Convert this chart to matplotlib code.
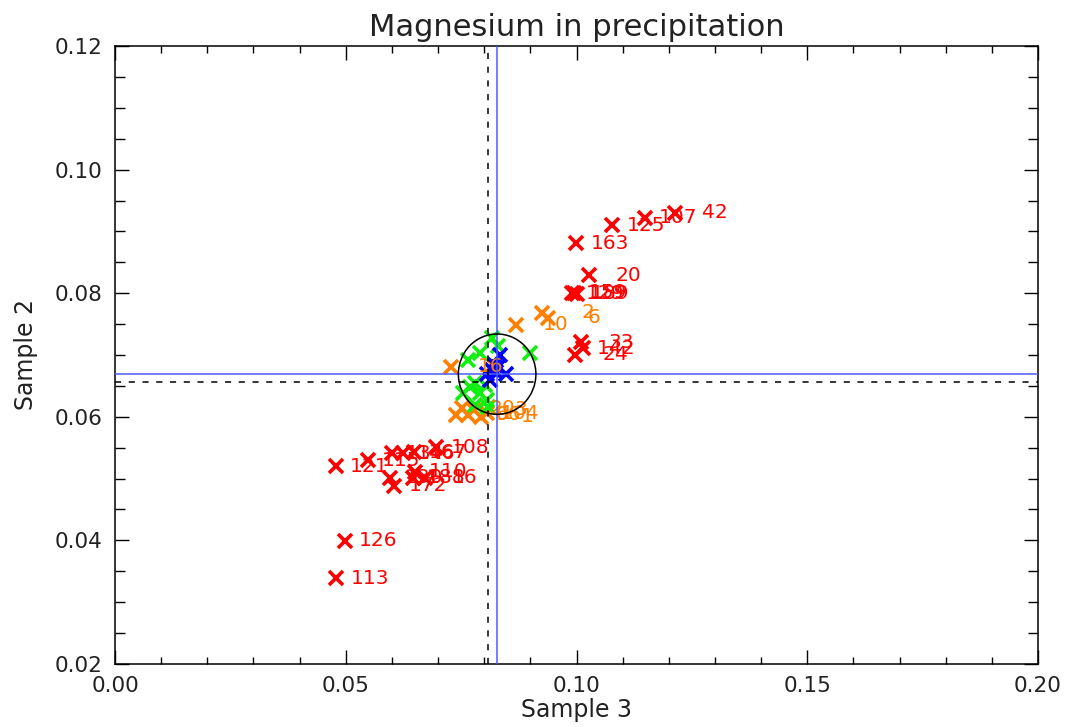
import matplotlib
matplotlib.use("Agg")
import matplotlib.pyplot as plt
from matplotlib.patches import Ellipse
from matplotlib.ticker import MultipleLocator

# Sample 3 vs Sample 2 magnesium concentrations, grouped by agreement class
red_x = [0.1077, 0.1148, 0.1213, 0.0999, 0.1027, 0.0990, 0.0995, 0.1000,
         0.1010, 0.1014, 0.0997, 0.0479, 0.0548, 0.0600, 0.0624, 0.0648,
         0.0696, 0.0596, 0.0605, 0.0646, 0.0650, 0.0672, 0.0498, 0.0479]
red_y = [0.0910, 0.0922, 0.0930, 0.0881, 0.0829, 0.0800, 0.0801, 0.0799,
         0.0721, 0.0711, 0.0700, 0.0520, 0.0530, 0.0541, 0.0541, 0.0543,
         0.0551, 0.0501, 0.0488, 0.0501, 0.0511, 0.0501, 0.0399, 0.0339]
red_ids = ["125", "107", "42", "163", "20", "129", "159", "189",
           "33", "142", "24", "121", "115", "134", "146", "167",
           "108", "130", "172", "188", "110", "16", "126", "113"]

orange_x = [0.0869, 0.0925, 0.0938, 0.0728, 0.0739, 0.0752, 0.0765,
            0.0778, 0.0793, 0.0806, 0.0820]
orange_y = [0.0749, 0.0768, 0.0760, 0.0681, 0.0603, 0.0614, 0.0603,
            0.0611, 0.0600, 0.0606, 0.0683]
orange_ids = ["10", "2", "6", "16", "9", "20", "66", "3", "1", "104", ""]

green_x = [0.0817, 0.0830, 0.0791, 0.0765, 0.0899, 0.0769, 0.0780,
           0.0791, 0.0754, 0.0806, 0.0780, 0.0808, 0.0802]
green_y = [0.0728, 0.0715, 0.0703, 0.0692, 0.0703, 0.0648, 0.0655,
           0.0638, 0.0638, 0.0627, 0.0619, 0.0616, 0.0651]

blue_x = [0.0834, 0.0823, 0.0817, 0.0847, 0.0806, 0.0830, 0.0813, 0.0826]
blue_y = [0.0700, 0.0684, 0.0676, 0.0669, 0.0669, 0.0681, 0.0660, 0.0672]

mean_x, mean_y = 0.0828, 0.0669      # blue reference lines
median_x, median_y = 0.0808, 0.0656  # dashed reference lines
circle_rx, circle_ry = 0.0084, 0.0065

RED = "#ff0000"
ORANGE = "#ff8000"
GREEN = "#10f010"
BLUE = "#0000ff"

fig = plt.figure(figsize=(10.68, 7.27), dpi=100)
ax = fig.add_axes([0.1077, 0.0867, 0.8642, 0.8500])

mk = dict(marker="x", linestyle="none", markersize=10, markeredgewidth=2.6)


def labelled(xs, ys, ids, color):
    ax.plot(xs, ys, color=color, **mk)
    for x, y, s in zip(xs, ys, ids):
        if s:
            ax.annotate(s, (x, y), xytext=(38, 0), textcoords="offset points",
                        ha="right", va="center", fontsize=14.5, color=color)


labelled(red_x, red_y, red_ids, RED)
labelled(orange_x, orange_y, orange_ids, ORANGE)
ax.plot(green_x, green_y, color=GREEN, **mk)
ax.plot(blue_x, blue_y, color=BLUE, **mk)

ax.axvline(mean_x, color="#4a5cff", lw=1.1, zorder=5)
ax.axhline(mean_y, color="#4a5cff", lw=1.1, zorder=5)
ax.axvline(median_x, color="black", lw=1.1, ls=(0, (4, 5)), zorder=5)
ax.axhline(median_y, color="black", lw=1.1, ls=(0, (4, 5)), zorder=5)
ax.add_patch(Ellipse((mean_x, mean_y), 2 * circle_rx, 2 * circle_ry,
                     fill=False, edgecolor="black", lw=1.1, zorder=6))

ax.set_xlim(0.0, 0.2)
ax.set_ylim(0.02, 0.12)
ax.set_xticks([0.00, 0.05, 0.10, 0.15, 0.20])
ax.set_yticks([0.02, 0.04, 0.06, 0.08, 0.10, 0.12])
ax.xaxis.set_minor_locator(MultipleLocator(0.01))
ax.yaxis.set_minor_locator(MultipleLocator(0.005))
ax.xaxis.set_major_formatter(plt.FormatStrFormatter("%.2f"))
ax.yaxis.set_major_formatter(plt.FormatStrFormatter("%.2f"))
ax.tick_params(which="both", direction="in", top=True, right=True,
               width=1, labelsize=15.5, pad=9, labelcolor="#222222")
ax.tick_params(which="major", length=10)
ax.tick_params(axis="x", which="minor", length=5)
ax.tick_params(axis="y", which="minor", length=7)
for s in ax.spines.values():
    s.set_linewidth(1.1)

ax.set_title("Magnesium in precipitation", fontsize=22, pad=7, color="#222222")
ax.set_xlabel("Sample 3", fontsize=17, labelpad=1, color="#222222")
ax.set_ylabel("Sample 2", fontsize=17, labelpad=12, color="#222222")

fig.savefig("out.png", dpi=100)
